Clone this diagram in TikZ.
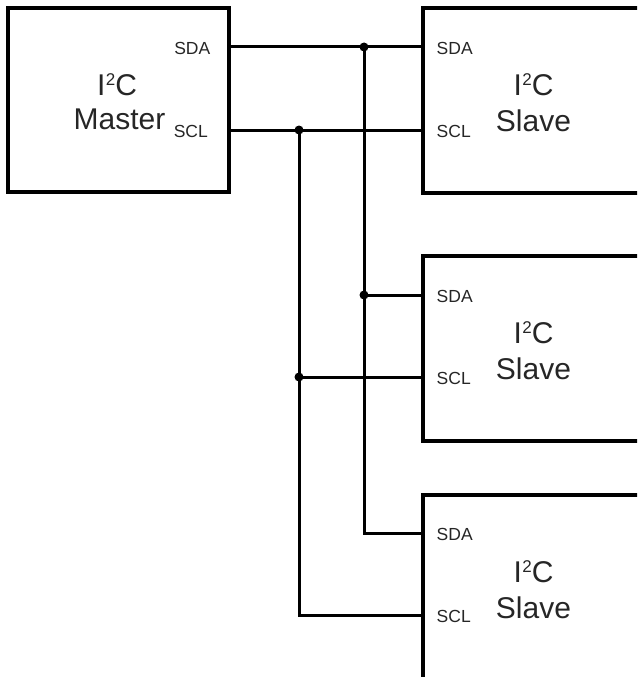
\documentclass[tikz,border=0pt]{standalone}
\usepackage{fontspec}
\setmainfont{Liberation Sans}
\newcommand{\iic}{I\kern0.5pt\raisebox{9.6pt}{\fontsize{17}{17}\selectfont 2}C}
\begin{document}
\begin{tikzpicture}[x=1pt,y=-1pt,
  box/.style={draw,line width=4.8pt,rectangle,inner sep=0pt,minimum width=221pt,minimum height=184pt},
  sbox/.style={draw,line width=4.8pt,rectangle,inner sep=0pt,minimum width=260pt,minimum height=185pt},
  wire/.style={line width=3pt},
  dot/.style={circle,fill=black,inner sep=0pt,minimum size=9pt},
  big/.style={font=\fontsize{30}{34}\selectfont,anchor=base,inner sep=0pt,text=black!85},
  pin/.style={font=\fontsize{17.5}{20}\selectfont,inner sep=0pt,text=black!85}]
\useasboundingbox (0,0) rectangle (637,677);
\clip (0,0) rectangle (637,677);
% boxes
\node[box] (master) at (118.5,100) {};
\node[sbox] (s1) at (553,100.5) {};
\node[sbox] (s2) at (553,348.5) {};
\node[sbox] (s3) at (553,587.5) {};
% labels
\node[big] (mt1) at (117,95) {\iic};
\node[big] (mt2) at (119.5,129) {Master};
\node[big] (t1a) at (533.5,95) {\iic};
\node[big] (t1b) at (533.5,131) {Slave};
\node[big] (t2a) at (533.5,343) {\iic};
\node[big] (t2b) at (533.5,379) {Slave};
\node[big] (t3a) at (533.5,582) {\iic};
\node[big] (t3b) at (533.5,618) {Slave};
\node[pin,anchor=base east] (mda) at (210.5,55) {SDA};
\node[pin,anchor=base east] (mcl) at (208,137) {SCL};
\node[pin,anchor=base west] (a1) at (436.5,55) {SDA};
\node[pin,anchor=base west] (c1) at (436.5,137) {SCL};
\node[pin,anchor=base west] (a2) at (436.5,302) {SDA};
\node[pin,anchor=base west] (c2) at (436.5,384) {SCL};
\node[pin,anchor=base west] (a3) at (436.5,540) {SDA};
\node[pin,anchor=base west] (c3) at (436.5,622) {SCL};
% pins
\coordinate (m-sda) at (229,47);
\coordinate (m-scl) at (229,130);
\coordinate (s1-sda) at (423,47);
\coordinate (s1-scl) at (423,130);
\coordinate (s2-sda) at (423,295);
\coordinate (s2-scl) at (423,377);
\coordinate (s3-sda) at (423,533);
\coordinate (s3-scl) at (423,615);
\coordinate (jda) at (364,47);
\coordinate (jcl) at (299,130);
% wires
\draw[wire] (m-sda) -- (s1-sda);
\draw[wire] (m-scl) -- (s1-scl);
\draw[wire] (jda) |- (s2-sda);
\draw[wire] (jda) |- (s3-sda);
\draw[wire] (jcl) |- (s2-scl);
\draw[wire] (jcl) |- (s3-scl);
% dots
\node[dot] (d1) at (jda) {};
\node[dot] (d2) at (jcl) {};
\node[dot] (d3) at (364,295) {};
\node[dot] (d4) at (299,377) {};
\end{tikzpicture}
\end{document}
